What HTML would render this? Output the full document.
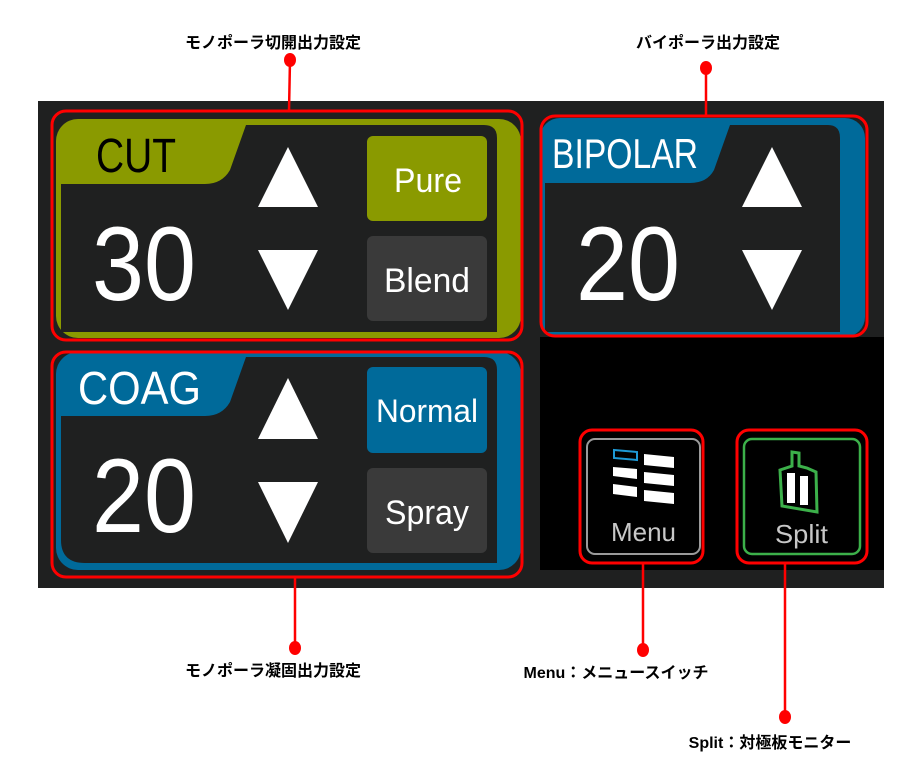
<!DOCTYPE html>
<html><head><meta charset="utf-8"><style>
html,body{margin:0;padding:0;background:#fff;width:913px;height:772px;overflow:hidden}
svg{display:block}
.lab{font-family:"Liberation Sans","Noto Sans CJK JP",sans-serif;font-weight:bold;font-size:16px;fill:#000}
.ui{font-family:"Liberation Sans",sans-serif;fill:#fff}
.num{font-family:"Liberation Sans",sans-serif;fill:#fff;font-size:105px}
</style></head><body>
<svg width="913" height="772" viewBox="0 0 913 772">
<rect x="38" y="101" width="846" height="487" fill="#1f2020"/>
<rect x="540" y="337" width="344" height="233" fill="#000"/>

<!-- CUT panel -->
<rect x="56" y="119" width="465" height="219" rx="22" fill="#8a9a00"/>
<path d="M61 184 L205 184 Q222 184 230 170 L246 125 L484 125 Q497 125 497 138 L497 332 L61 332 Z" fill="#1f2020"/>
<text x="96" y="172" font-family="Liberation Sans,sans-serif" font-size="48" fill="#000" textLength="80" lengthAdjust="spacingAndGlyphs">CUT</text>
<text class="num" transform="translate(92,300) scale(0.89,1)">30</text>
<polygon points="288,147 318,207 258,207" fill="#fff"/>
<polygon points="258,250 318,250 288,310" fill="#fff"/>
<rect x="367" y="136" width="120" height="85" rx="6" fill="#8a9a00"/>
<text class="ui" x="394" y="192" font-size="34" textLength="68" lengthAdjust="spacingAndGlyphs">Pure</text>
<rect x="367" y="236" width="120" height="85" rx="6" fill="#3a3a3a"/>
<text class="ui" x="384" y="292" font-size="34" textLength="86" lengthAdjust="spacingAndGlyphs">Blend</text>

<!-- COAG panel -->
<rect x="56" y="352" width="465" height="218" rx="22" fill="#006a9a"/>
<path d="M61 416 L205 416 Q222 416 230 402 L246 357 L484 357 Q497 357 497 370 L497 563 L85 563 Q61 563 61 540 Z" fill="#1f2020"/>
<text class="ui" x="78" y="404" font-size="46" textLength="123" lengthAdjust="spacingAndGlyphs">COAG</text>
<text class="num" transform="translate(92,532) scale(0.89,1)">20</text>
<polygon points="288,378 318,439 258,439" fill="#fff"/>
<polygon points="258,482 318,482 288,543" fill="#fff"/>
<rect x="367" y="367" width="120" height="86" rx="6" fill="#006a9a"/>
<text class="ui" x="376" y="422" font-size="32" textLength="102" lengthAdjust="spacingAndGlyphs">Normal</text>
<rect x="367" y="468" width="120" height="85" rx="6" fill="#3a3a3a"/>
<text class="ui" x="385" y="524" font-size="34" textLength="84" lengthAdjust="spacingAndGlyphs">Spray</text>

<!-- BIPOLAR panel -->
<rect x="540" y="118" width="325" height="219" rx="20" fill="#006a9a"/>
<path d="M545 183 L690 183 Q707 183 714 170 L730 125 L828 125 Q840 125 840 138 L840 332 L545 332 Z" fill="#1f2020"/>
<text class="ui" x="552" y="168" font-size="42" textLength="146" lengthAdjust="spacingAndGlyphs">BIPOLAR</text>
<text class="num" transform="translate(576,300) scale(0.89,1)">20</text>
<polygon points="772,147 802,207 742,207" fill="#fff"/>
<polygon points="742,250 802,250 772,310" fill="#fff"/>

<!-- Menu button -->
<rect x="587" y="439" width="113" height="115" rx="8" fill="#000" stroke="#9a9a9a" stroke-width="2"/>
<polygon points="614,450 637,452 637,460 614,458" fill="none" stroke="#1e9ad6" stroke-width="2"/>
<g fill="#fff">
<polygon points="613,467 637,469 637,479 613,476"/>
<polygon points="613,484 637,487 637,497 613,494"/>
<polygon points="644,454 674,457 674,468 644,465"/>
<polygon points="644,472 674,475 674,486 644,483"/>
<polygon points="644,490 674,493 674,504 644,501"/>
</g>
<text x="611" y="541" font-family="Liberation Sans,sans-serif" font-size="26" fill="#c8c8c8" textLength="65" lengthAdjust="spacingAndGlyphs">Menu</text>

<!-- Split button -->
<rect x="744" y="439" width="116" height="115" rx="8" fill="#000" stroke="#3cb04a" stroke-width="2.5"/>
<path d="M792 452 L799 453 L799 466 L807 468 L816 472 L817 512 L782 506 L780 470 L792 466 Z" fill="none" stroke="#3cb04a" stroke-width="3"/>
<rect x="787" y="473" width="8" height="30" fill="#fff"/>
<rect x="800" y="476" width="8" height="29" fill="#fff"/>
<text x="775" y="543" font-family="Liberation Sans,sans-serif" font-size="26" fill="#c8c8c8" textLength="53" lengthAdjust="spacingAndGlyphs">Split</text>

<!-- red highlight boxes -->
<g fill="none" stroke="#f00" stroke-width="3">
<rect x="52" y="111" width="470" height="229" rx="14"/>
<rect x="52" y="352" width="470" height="225" rx="14"/>
<rect x="541" y="116" width="326" height="220" rx="14"/>
<rect x="580" y="430" width="123" height="133" rx="12"/>
<rect x="737" y="430" width="130" height="133" rx="12"/>
</g>

<!-- connectors -->
<g stroke="#f00" stroke-width="2.5">
<line x1="290" y1="60" x2="289" y2="111"/>
<line x1="706" y1="68" x2="706" y2="116"/>
<line x1="295" y1="578" x2="295" y2="648"/>
<line x1="643" y1="563" x2="643" y2="650"/>
<line x1="785" y1="563" x2="785" y2="717"/>
</g>
<g fill="#f00">
<ellipse cx="290" cy="60" rx="6" ry="7"/>
<ellipse cx="706" cy="68" rx="6" ry="7"/>
<ellipse cx="295" cy="648" rx="6" ry="7"/>
<ellipse cx="643" cy="650" rx="6" ry="7"/>
<ellipse cx="785" cy="717" rx="6" ry="7"/>
</g>

<!-- labels -->
<text class="lab" x="273" y="48" text-anchor="middle">モノポーラ切開出力設定</text>
<text class="lab" x="708" y="48" text-anchor="middle">バイポーラ出力設定</text>
<text class="lab" x="273" y="676" text-anchor="middle">モノポーラ凝固出力設定</text>
<text class="lab" x="616" y="678" text-anchor="middle">Menu：メニュースイッチ</text>
<text class="lab" x="770" y="748" text-anchor="middle">Split：対極板モニター</text>
</svg>
</body></html>
